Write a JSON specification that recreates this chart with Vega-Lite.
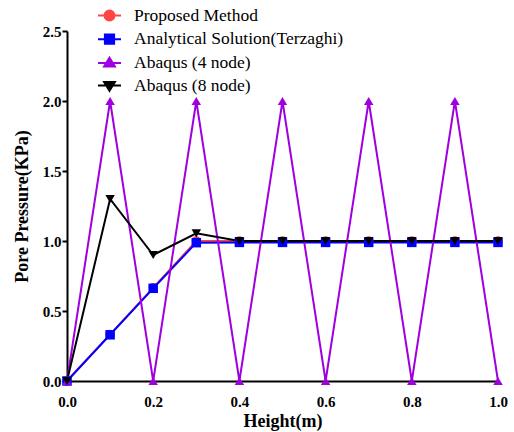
{
  "$schema": "https://vega.github.io/schema/vega-lite/v6.json",
  "width": 431,
  "height": 350,
  "autosize": {"type": "none"},
  "padding": {"left": 67, "top": 31, "right": 16, "bottom": 51},
  "background": "white",
  "config": {
    "view": {"stroke": null},
    "font": "Liberation Serif",
    "legend": {"labelFont": "Liberation Serif", "labelFontSize": 17.5, "labelColor": "black"},
    "axis": {
      "grid": false,
      "domainColor": "black",
      "domainWidth": 2,
      "tickColor": "black",
      "tickWidth": 2,
      "labelFont": "Liberation Serif",
      "labelFontWeight": "bold",
      "labelFontSize": 15,
      "labelColor": "black",
      "titleFont": "Liberation Serif",
      "titleFontWeight": "bold",
      "titleFontSize": 18,
      "titleColor": "black"
    }
  },
  "data": {
    "values": [
      {"series": "Proposed Method", "x": 0.0, "y": 0.0},
      {"series": "Proposed Method", "x": 0.1, "y": 0.333},
      {"series": "Proposed Method", "x": 0.2, "y": 0.667},
      {"series": "Proposed Method", "x": 0.3, "y": 1.0},
      {"series": "Proposed Method", "x": 0.4, "y": 1.0},
      {"series": "Proposed Method", "x": 0.5, "y": 1.0},
      {"series": "Proposed Method", "x": 0.6, "y": 1.0},
      {"series": "Proposed Method", "x": 0.7, "y": 1.0},
      {"series": "Proposed Method", "x": 0.8, "y": 1.0},
      {"series": "Proposed Method", "x": 0.9, "y": 1.0},
      {"series": "Proposed Method", "x": 1.0, "y": 1.0},
      {"series": "Analytical Solution(Terzaghi)", "x": 0.0, "y": 0.0},
      {"series": "Analytical Solution(Terzaghi)", "x": 0.1, "y": 0.33},
      {"series": "Analytical Solution(Terzaghi)", "x": 0.2, "y": 0.662},
      {"series": "Analytical Solution(Terzaghi)", "x": 0.3, "y": 0.988},
      {"series": "Analytical Solution(Terzaghi)", "x": 0.4, "y": 0.99},
      {"series": "Analytical Solution(Terzaghi)", "x": 0.5, "y": 0.99},
      {"series": "Analytical Solution(Terzaghi)", "x": 0.6, "y": 0.99},
      {"series": "Analytical Solution(Terzaghi)", "x": 0.7, "y": 0.99},
      {"series": "Analytical Solution(Terzaghi)", "x": 0.8, "y": 0.99},
      {"series": "Analytical Solution(Terzaghi)", "x": 0.9, "y": 0.99},
      {"series": "Analytical Solution(Terzaghi)", "x": 1.0, "y": 0.99},
      {"series": "Abaqus (4 node)", "x": 0.0, "y": 0.0},
      {"series": "Abaqus (4 node)", "x": 0.1, "y": 2.0},
      {"series": "Abaqus (4 node)", "x": 0.2, "y": 0.0},
      {"series": "Abaqus (4 node)", "x": 0.3, "y": 2.0},
      {"series": "Abaqus (4 node)", "x": 0.4, "y": 0.0},
      {"series": "Abaqus (4 node)", "x": 0.5, "y": 2.0},
      {"series": "Abaqus (4 node)", "x": 0.6, "y": 0.0},
      {"series": "Abaqus (4 node)", "x": 0.7, "y": 2.0},
      {"series": "Abaqus (4 node)", "x": 0.8, "y": 0.0},
      {"series": "Abaqus (4 node)", "x": 0.9, "y": 2.0},
      {"series": "Abaqus (4 node)", "x": 1.0, "y": 0.0},
      {"series": "Abaqus (8 node)", "x": 0.0, "y": 0.0},
      {"series": "Abaqus (8 node)", "x": 0.1, "y": 1.3},
      {"series": "Abaqus (8 node)", "x": 0.2, "y": 0.9},
      {"series": "Abaqus (8 node)", "x": 0.3, "y": 1.055},
      {"series": "Abaqus (8 node)", "x": 0.4, "y": 1.0},
      {"series": "Abaqus (8 node)", "x": 0.5, "y": 1.0},
      {"series": "Abaqus (8 node)", "x": 0.6, "y": 1.0},
      {"series": "Abaqus (8 node)", "x": 0.7, "y": 1.0},
      {"series": "Abaqus (8 node)", "x": 0.8, "y": 1.0},
      {"series": "Abaqus (8 node)", "x": 0.9, "y": 1.0},
      {"series": "Abaqus (8 node)", "x": 1.0, "y": 1.0}
    ]
  },
  "encoding": {
    "x": {
      "field": "x", "type": "quantitative",
      "scale": {"domain": [0, 1], "nice": false, "zero": false},
      "axis": {"title": "Height(m)", "values": [0, 0.2, 0.4, 0.6, 0.8, 1.0], "format": ".1f", "ticks": false, "labelPadding": 13, "titlePadding": 3, "labelFlush": false}
    },
    "y": {
      "field": "y", "type": "quantitative",
      "scale": {"domain": [0, 2.5], "nice": false},
      "axis": {"title": "Pore Pressure(KPa)", "values": [0, 0.5, 1.0, 1.5, 2.0, 2.5], "format": ".1f", "tickSize": 5, "labelPadding": 1, "titlePadding": 11, "labelFlush": false}
    }
  },
  "resolve": {"legend": {"color": "independent", "shape": "independent"}},
  "layer": [
    {
      "mark": {"type": "line", "strokeWidth": 2},
      "encoding": {
        "color": {
          "field": "series", "type": "nominal",
          "scale": {
            "domain": ["Proposed Method", "Analytical Solution(Terzaghi)", "Abaqus (4 node)", "Abaqus (8 node)"],
            "range": ["#FF4444", "#0000FF", "#A000E0", "#000000"]
          },
          "legend": {
            "title": null,
            "orient": "none",
            "legendX": 30,
            "legendY": -28,
            "padding": 0,
            "rowPadding": 1.7,
            "symbolSize": 529,
            "symbolStrokeWidth": 2,
            "labelFont": "Liberation Serif",
            "labelFontSize": 17.5,
            "labelColor": "black",
            "labelOffset": 12,
            "labelLimit": 400,
            "encode": {
              "labels": {
                "update": {
                  "font": {"value": "Liberation Serif"},
                  "fontSize": {"value": 17.5},
                  "fill": {"value": "black"}
                }
              },
              "symbols": {
                "update": {
                  "shape": {"signal": "datum.value === 'Proposed Method' ? 'M-1,0H1M-0.43,0A0.43,0.43 0 1,0 0.43,0A0.43,0.43 0 1,0 -0.43,0Z' : datum.value === 'Analytical Solution(Terzaghi)' ? 'M-1,0H1M-0.4,-0.4H0.4V0.4H-0.4Z' : datum.value === 'Abaqus (4 node)' ? 'M-1,0H1M0,-0.45L0.47,0.32H-0.47Z' : 'M-1,0H1M0,0.45L0.47,-0.32H-0.47Z'"},
                  "fill": {"scale": "color", "field": "value"},
                  "stroke": {"scale": "color", "field": "value"},
                  "strokeWidth": {"value": 2}
                }
              }
            }
          }
        }
      }
    },
    {
      "mark": {"type": "point", "filled": true, "opacity": 1, "size": 90},
      "encoding": {
        "shape": {
          "field": "series", "type": "nominal",
          "scale": {
            "domain": ["Proposed Method", "Analytical Solution(Terzaghi)", "Abaqus (4 node)", "Abaqus (8 node)"],
            "range": ["circle", "square", "triangle-up", "triangle-down"]
          },
          "legend": null
        },
        "color": {"field": "series", "type": "nominal", "legend": null}
      }
    }
  ]
}
